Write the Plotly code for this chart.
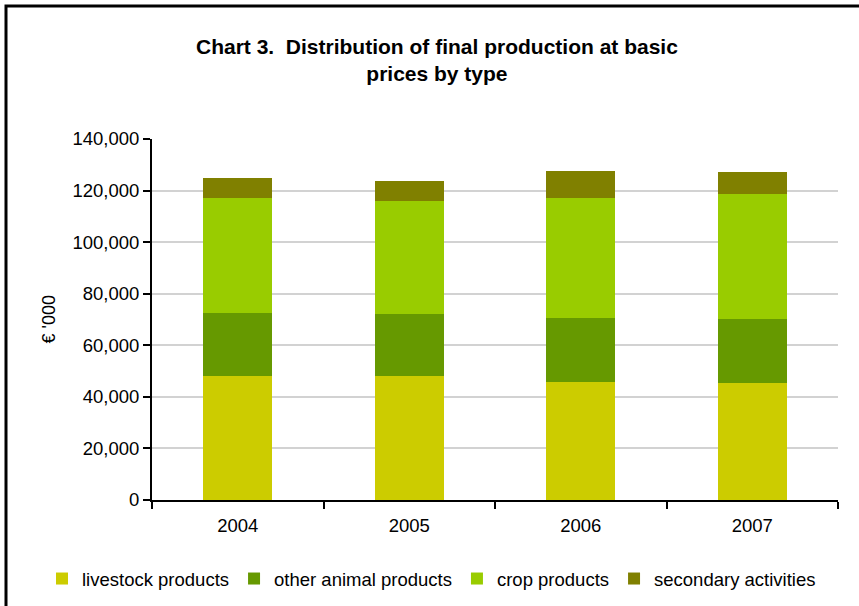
import plotly.graph_objects as go

years = ["2004", "2005", "2006", "2007"]
livestock = [48100, 48100, 45700, 45300]
other_animal = [24400, 24000, 24800, 24800]
crop = [44600, 43800, 46500, 48500]
secondary = [7750, 7750, 10500, 8500]

series = [
    ("livestock products", livestock, "#CCCC00"),
    ("other animal products", other_animal, "#669900"),
    ("crop products", crop, "#99CC00"),
    ("secondary activities", secondary, "#808000"),
]

FONT = "Arial, 'Liberation Sans', sans-serif"

fig = go.Figure()
for name, vals, color in series:
    fig.add_trace(go.Bar(x=years, y=vals, name=name, marker=dict(color=color, line=dict(width=0))))

L, R, T, B = 152, 21, 139, 106
W, H = 859, 606
pw = W - L - R
ph = H - T - B

def px(x):
    return (x - L) / pw

def py(y):
    return (H - B - y) / ph

fig.update_layout(
    width=W, height=H,
    margin=dict(l=L, r=R, t=T, b=B, autoexpand=False),
    barmode="stack",
    bargap=0.6,
    plot_bgcolor="white",
    paper_bgcolor="white",
    font=dict(family=FONT, size=18.5, color="black"),
    showlegend=True,
    legend=dict(
        orientation="h", traceorder="normal",
        x=px(42), xanchor="left", y=py(579), yanchor="middle",
        font=dict(size=18.5), itemwidth=30, tracegroupgap=0,
        bgcolor="rgba(0,0,0,0)",
    ),
    xaxis=dict(
        type="category",
        showline=True, linecolor="black", linewidth=2,
        ticks="outside", tickson="boundaries", ticklen=7, tickwidth=2, tickcolor="black",
        tickfont=dict(size=18.5), ticklabelstandoff=8,
        showgrid=False,
    ),
    yaxis=dict(
        range=[0, 140000], dtick=20000, tickformat=",",
        showline=True, linecolor="black", linewidth=2,
        ticks="outside", ticklen=7, tickwidth=2, tickcolor="black",
        tickfont=dict(size=18.5),
        showgrid=True, gridcolor="#d2d2d2", gridwidth=2,
        zeroline=False,
    ),
    annotations=[
        dict(
            text="<b>Chart 3.  Distribution of final production at basic<br>prices by type</b>",
            x=px(437), y=py(60), xref="paper", yref="paper",
            xanchor="center", yanchor="middle", showarrow=False,
            font=dict(size=21, family=FONT), align="center",
        ),
        dict(
            text="€ '000", textangle=-90,
            x=px(48), y=0.5, xref="paper", yref="paper",
            xanchor="center", yanchor="middle", showarrow=False,
            font=dict(size=18, family=FONT),
        ),
    ],
    shapes=[
        dict(type="rect", xref="paper", yref="paper",
             x0=px(6), x1=px(880), y0=py(640), y1=py(6),
             line=dict(color="black", width=3), fillcolor="rgba(0,0,0,0)", layer="above"),
    ],
)

fig.write_html(
    "out.html",
    config={"displayModeBar": False},
    post_script="document.body.style.margin='0';document.body.style.overflow='hidden';",
)
